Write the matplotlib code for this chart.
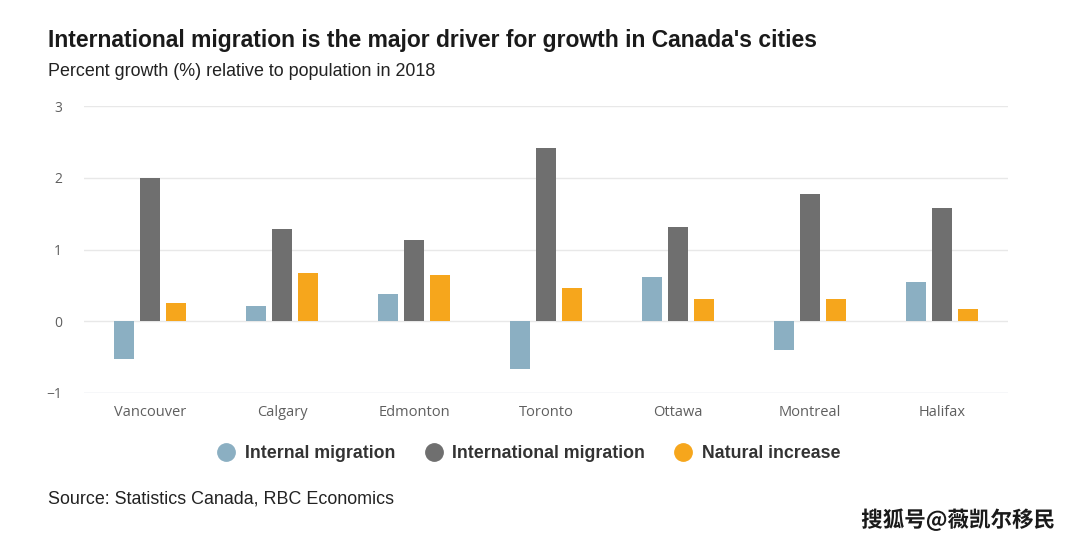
import matplotlib
matplotlib.use("Agg")
import matplotlib.pyplot as plt
import matplotlib.patheffects as pe
from matplotlib.lines import Line2D
import numpy as np

cities = ["Vancouver", "Calgary", "Edmonton", "Toronto", "Ottawa", "Montreal", "Halifax"]
internal = [-0.52, 0.21, 0.38, -0.67, 0.61, -0.40, 0.55]
international = [2.00, 1.29, 1.13, 2.42, 1.31, 1.78, 1.58]
natural = [0.26, 0.67, 0.65, 0.47, 0.31, 0.31, 0.17]
series_names = ["Internal migration", "International migration", "Natural increase"]
yticks = [-1, 0, 1, 2, 3]

colors = ["#8bafc2", "#6f6f6f", "#f6a61c"]

fig = plt.figure(figsize=(10.8, 5.43), dpi=100)
ax = fig.add_axes([84/1080, 1-393/543, 924/1080, 287/543])

x = np.arange(len(cities))
w = 0.152
off = 0.197
for vals, dx, c in zip([internal, international, natural], [-off, 0, off], colors):
    ax.bar(x + dx, vals, width=w, color=c, zorder=3)

ax.set_xlim(-0.5, len(cities) - 0.5)
ax.set_ylim(-1, 3)
ax.set_yticks(yticks)
ax.set_yticklabels(["\u22121" if t < 0 else str(t) for t in yticks])
for t in yticks:
    ax.axhline(t, color="#e8e8e8" if t != -1 else "#d3d8e3", lw=1, zorder=1)
ax.set_xticks(x)
ax.set_xticklabels(cities)
for s in ax.spines.values():
    s.set_visible(False)
ax.tick_params(axis="both", length=0, colors="#5f5f5f")
ax.tick_params(axis="y", labelsize=10, pad=16)
ax.tick_params(axis="x", labelsize=10.5, pad=9)
for lab in ax.get_xticklabels() + ax.get_yticklabels():
    lab.set_fontfamily("Open Sans")

fig.text(48/1080, 1-40/543, "International migration is the major driver for growth in Canada's cities",
         fontsize=16.5, fontweight="bold", family="Liberation Sans", color="#1a1a1a", va="center")
fig.text(48/1080, 1-71/543, "Percent growth (%) relative to population in 2018",
         fontsize=12.9, family="Liberation Sans", color="#222222", va="center")
fig.text(48/1080, 1-499/543, "Source: Statistics Canada, RBC Economics",
         fontsize=12.85, family="Liberation Sans", color="#222222", va="center")

handles = [Line2D([], [], marker="o", ls="none", markersize=12.5, color=c) for c in colors]
leg = fig.legend(handles, series_names, loc="center", bbox_to_anchor=(528/1080, 1-454/543), ncol=3,
                 frameon=False, handletextpad=0.45, columnspacing=1.55, handlelength=1.2,
                 prop={"family": "Liberation Sans", "weight": "bold", "size": 12.8})
for t in leg.get_texts():
    t.set_color("#333333")

fig.text(958/1080, 1-520/543, "搜狐号@薇凯尔移民", fontsize=15.5, fontweight="bold",
         family=["Noto Sans CJK SC", "DejaVu Sans"],
         color="#1a1a1a", ha="center", va="center",
         path_effects=[pe.withStroke(linewidth=3, foreground="white")])

fig.savefig("out.png", dpi=100, facecolor="white")
